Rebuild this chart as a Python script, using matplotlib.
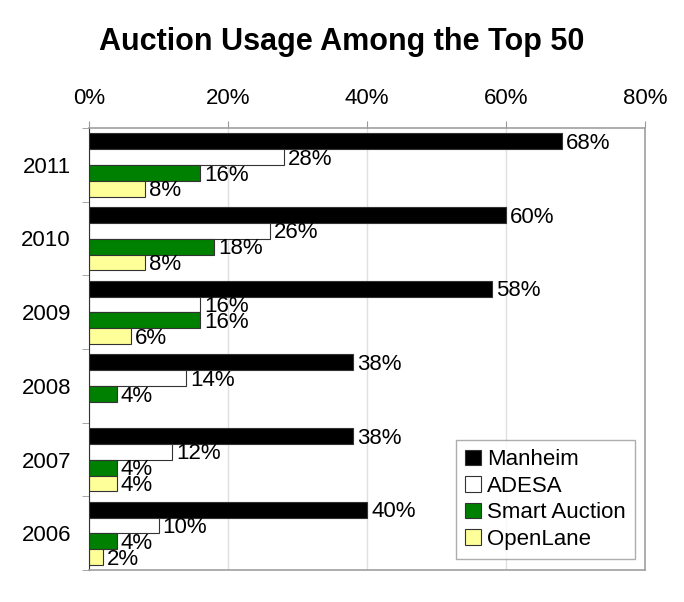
import matplotlib

matplotlib.use("Agg")
import matplotlib.pyplot as plt
import numpy as np

plt.rcParams["font.family"] = ["Liberation Sans", "DejaVu Sans"]

YEARS = ["2011", "2010", "2009", "2008", "2007", "2006"]
SERIES = ["Manheim", "ADESA", "Smart Auction", "OpenLane"]
MANHEIM = [68, 60, 58, 38, 38, 40]
ADESA = [28, 26, 16, 14, 12, 10]
SMART = [16, 18, 16, 4, 4, 4]
OPENLANE = [8, 8, 6, None, 4, 2]
COLORS = ["#000000", "#ffffff", "#008000", "#ffff99"]

fig = plt.figure(figsize=(6.84, 6.02), dpi=100)
ax = fig.add_axes([89 / 684, 32 / 602, 556 / 684, 442 / 602])

n = len(YEARS)
bar_h = 0.215
centers = np.arange(n)[::-1].astype(float)
for k, (name, vals, col) in enumerate(zip(SERIES, [MANHEIM, ADESA, SMART, OPENLANE], COLORS)):
    y = centers + 0.32 - k * bar_h
    for yi, v in zip(y, vals):
        if v is None:
            continue
        ax.barh(yi, v, height=bar_h, color=col, edgecolor="#333333", linewidth=0.8,
                label=name if yi == y[0] else None)
        ax.text(v + 0.6, yi - 0.03, f"{v}%", va="center", ha="left", fontsize=16)

ax.set_xlim(0, 80)
ax.set_ylim(-0.5, n - 0.5)
ax.xaxis.tick_top()
ax.set_xticks(np.arange(0, 81, 20))
ax.set_xticklabels([f"{t}%" for t in range(0, 81, 20)], fontsize=16)
ax.tick_params(axis="x", length=5, color="#999999", pad=9)
ax.set_yticks(centers)
ax.set_yticklabels(YEARS, fontsize=16)
ax.set_yticks(np.arange(-0.5, n, 1), minor=True)
ax.tick_params(axis="y", which="major", length=0, pad=13)
ax.tick_params(axis="y", which="minor", length=5, color="#999999")
ax.grid(axis="x", color="#e0e0e0", linewidth=1)
ax.set_axisbelow(True)
for side in ["top", "right", "bottom"]:
    ax.spines[side].set_color("#a0a0a0")
    ax.spines[side].set_linewidth(1.2)
ax.spines["left"].set_color("#333333")

leg = ax.legend(loc="lower right", bbox_to_anchor=(0.99, 0.015), fontsize=16,
                frameon=True, fancybox=False, edgecolor="#999999",
                handlelength=0.7, handleheight=0.7, handletextpad=0.3,
                labelspacing=0.25, borderpad=0.4, borderaxespad=0.2)
leg.get_frame().set_linewidth(1)

fig.text(0.5, 0.93, "Auction Usage Among the Top 50", ha="center", va="center",
         fontsize=22, fontweight="bold")

fig.savefig("out.png", dpi=100)
